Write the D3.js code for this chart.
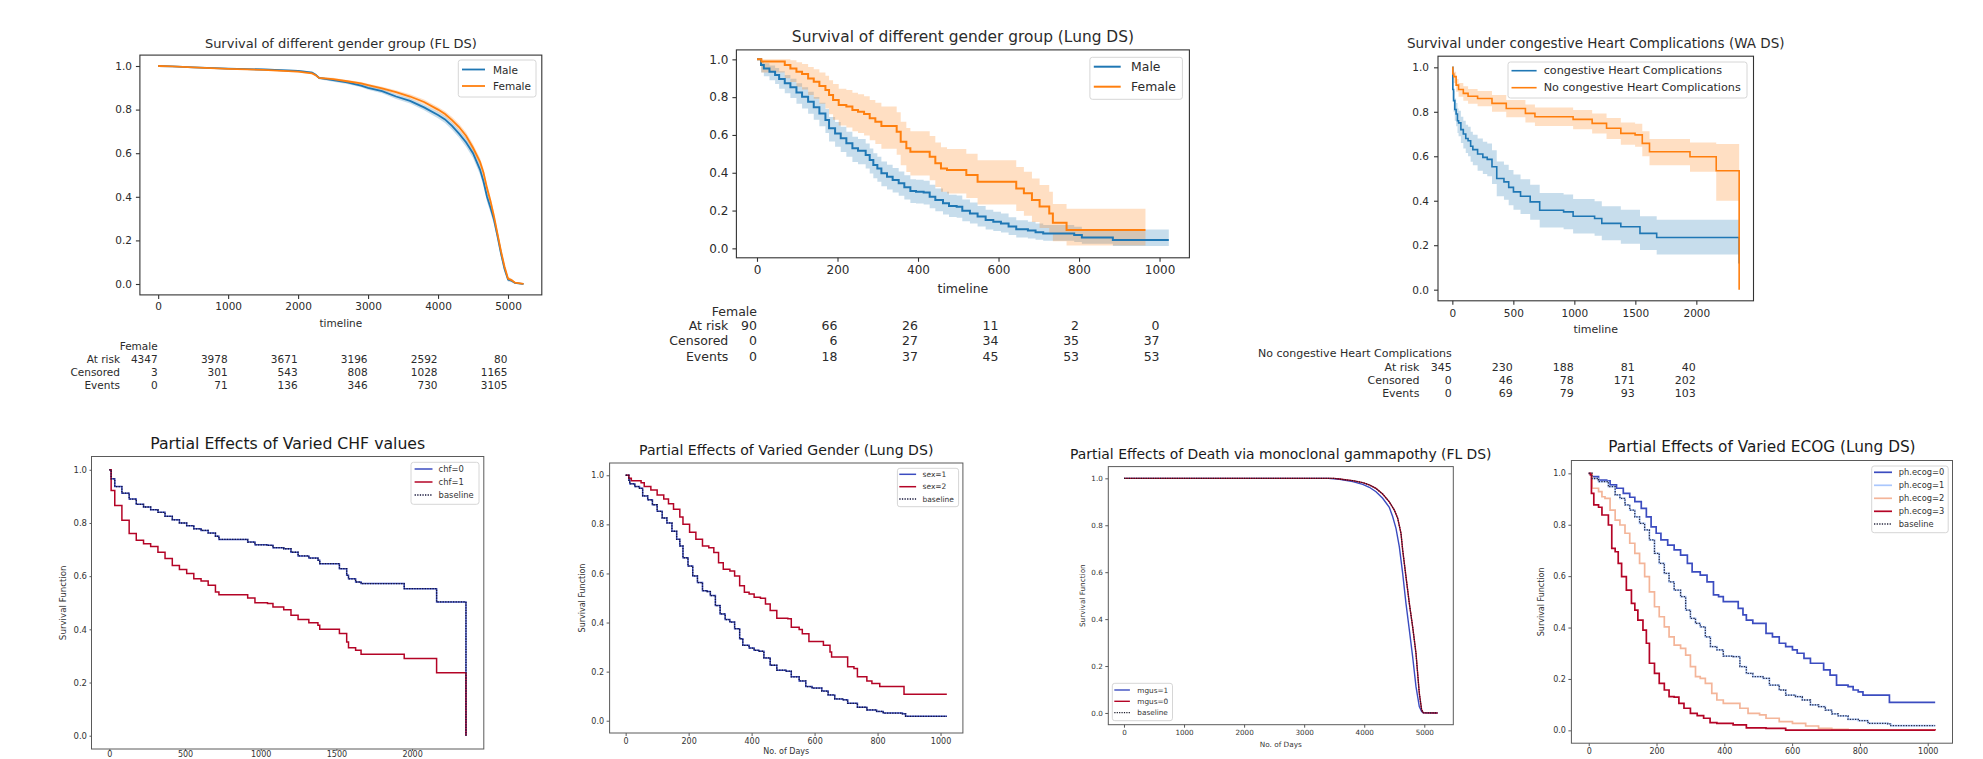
<!DOCTYPE html>
<html><head><meta charset="utf-8">
<script src="https://cdn.jsdelivr.net/npm/d3@7"></script>
<style>body{margin:0;background:#fff}svg{display:block}</style>
</head><body><script>
// ================= DATA =================
// Panel 1: FL dataset, KM by gender
const flTime = [0,200,500,1000,1500,2000,2200,2250,2300,2500,2700,2900,3000,3200,3400,3600,3800,4000,4100,4200,4300,4400,4500,4600,4650,4700,4750,4800,4850,4900,4950,5000,5050,5100,5200,5222];
const flMale = [1.0,0.998,0.994,0.988,0.984,0.978,0.970,0.960,0.945,0.935,0.925,0.91,0.90,0.885,0.86,0.84,0.81,0.775,0.755,0.725,0.69,0.65,0.60,0.525,0.47,0.40,0.35,0.295,0.22,0.14,0.07,0.02,0.015,0.005,0.001,0.001];
const flMaleLo = [1.0,0.997,0.992,0.985,0.980,0.974,0.965,0.955,0.939,0.928,0.917,0.902,0.891,0.875,0.849,0.828,0.797,0.760,0.739,0.708,0.672,0.630,0.578,0.502,0.447,0.377,0.327,0.273,0.200,0.122,0.056,0.012,0.008,0.001,0.0,0.0];
const flMaleHi = [1.0,0.999,0.996,0.991,0.988,0.982,0.975,0.965,0.951,0.942,0.933,0.918,0.909,0.895,0.871,0.852,0.823,0.790,0.771,0.742,0.708,0.670,0.622,0.548,0.493,0.423,0.373,0.317,0.240,0.158,0.084,0.028,0.022,0.009,0.003,0.003];
const flFemale = [1.0,0.998,0.994,0.987,0.982,0.974,0.966,0.958,0.945,0.94,0.93,0.92,0.912,0.897,0.88,0.86,0.835,0.80,0.78,0.752,0.72,0.68,0.625,0.56,0.51,0.44,0.38,0.31,0.23,0.15,0.08,0.025,0.018,0.006,0.002,0.001];
const flFemaleLo = [1.0,0.997,0.992,0.984,0.979,0.970,0.962,0.953,0.940,0.934,0.924,0.913,0.905,0.889,0.871,0.850,0.824,0.788,0.767,0.738,0.705,0.664,0.608,0.542,0.491,0.421,0.361,0.291,0.212,0.134,0.067,0.017,0.011,0.002,0.0,0.0];
const flFemaleHi = [1.0,0.999,0.996,0.990,0.985,0.978,0.970,0.963,0.950,0.946,0.936,0.927,0.919,0.905,0.889,0.870,0.846,0.812,0.793,0.766,0.735,0.696,0.642,0.578,0.529,0.459,0.399,0.329,0.248,0.166,0.093,0.033,0.025,0.010,0.004,0.003];
const flTicks = [0,1000,2000,3000,4000,5000];
const flAtRisk = [4347,3978,3671,3196,2592,80];
const flCensored = [3,301,543,808,1028,1165];
const flEvents = [0,71,136,346,730,3105];

// Panel 2: Lung dataset, KM by gender
const lungMaleTime = [0,10,17,31,45,55,69,83,98,112,127,141,155,170,179,194,208,222,237,251,270,280,289,299,309,323,337,352,366,381,395,414,429,443,462,477,496,510,529,548,568,587,606,625,644,673,692,711,759,788,807,855,884,1023];
const lungMale = [1.0,0.97,0.952,0.935,0.917,0.896,0.873,0.852,0.824,0.802,0.776,0.746,0.714,0.679,0.635,0.608,0.582,0.556,0.529,0.517,0.494,0.467,0.441,0.423,0.397,0.379,0.362,0.344,0.323,0.303,0.30,0.295,0.273,0.256,0.238,0.224,0.22,0.199,0.185,0.168,0.15,0.141,0.132,0.115,0.101,0.094,0.085,0.079,0.079,0.071,0.058,0.058,0.044,0.044];
const lungMaleLo = [1.0,0.93,0.91,0.89,0.87,0.845,0.82,0.795,0.765,0.74,0.712,0.68,0.646,0.61,0.565,0.537,0.51,0.484,0.457,0.445,0.422,0.396,0.371,0.353,0.328,0.311,0.295,0.278,0.258,0.24,0.237,0.232,0.212,0.196,0.179,0.166,0.162,0.143,0.131,0.116,0.1,0.092,0.084,0.07,0.058,0.052,0.045,0.04,0.04,0.034,0.024,0.024,0.012,0.012];
const lungMaleHi = [1.0,0.99,0.98,0.968,0.954,0.937,0.917,0.898,0.873,0.853,0.829,0.801,0.77,0.737,0.695,0.669,0.643,0.617,0.59,0.578,0.555,0.528,0.503,0.485,0.46,0.442,0.425,0.407,0.387,0.366,0.363,0.358,0.336,0.317,0.299,0.284,0.28,0.258,0.243,0.224,0.204,0.194,0.184,0.165,0.149,0.141,0.131,0.124,0.124,0.114,0.1,0.1,0.1,0.1];
const lungFemaleTime = [0,11,69,83,98,112,127,141,155,170,179,189,203,222,237,251,266,280,294,309,347,357,371,381,429,443,457,472,520,548,644,663,683,702,726,735,769,965];
const lungFemale = [1.0,0.989,0.97,0.952,0.935,0.922,0.899,0.882,0.859,0.838,0.811,0.785,0.758,0.75,0.732,0.723,0.711,0.688,0.67,0.647,0.617,0.564,0.529,0.511,0.485,0.45,0.423,0.414,0.388,0.353,0.317,0.291,0.256,0.221,0.185,0.136,0.097,0.097];
const lungFemaleLo = [1.0,0.93,0.90,0.88,0.855,0.84,0.812,0.792,0.765,0.74,0.71,0.68,0.65,0.64,0.62,0.61,0.597,0.572,0.552,0.527,0.495,0.44,0.404,0.386,0.36,0.325,0.3,0.29,0.266,0.232,0.198,0.173,0.14,0.108,0.077,0.038,0.015,0.015];
const lungFemaleHi = [1.0,1.0,1.0,0.995,0.985,0.975,0.96,0.948,0.93,0.913,0.89,0.87,0.845,0.838,0.823,0.815,0.805,0.785,0.77,0.75,0.72,0.67,0.637,0.62,0.595,0.56,0.535,0.526,0.5,0.466,0.43,0.405,0.37,0.335,0.3,0.235,0.21,0.21];
const lungTicks = [0,200,400,600,800,1000];
const lungAtRisk = [90,66,26,11,2,0];
const lungCensored = [0,6,27,34,35,37];
const lungEvents = [0,18,37,45,53,53];

// Panel 3: WA dataset, KM by congestive heart complications
const chcTime = [0,4,10,20,31,42,51,70,90,110,129,150,168,207,250,286,325,364,423,462,501,559,638,716,912,990,1166,1225,1381,1538,1675,2351];
const chcSurv = [1.0,0.90,0.85,0.81,0.79,0.76,0.75,0.72,0.70,0.68,0.67,0.645,0.63,0.61,0.595,0.586,0.553,0.50,0.485,0.46,0.44,0.42,0.395,0.357,0.35,0.33,0.32,0.298,0.283,0.253,0.235,0.118];
const chcLo = [1.0,0.86,0.80,0.76,0.735,0.705,0.69,0.66,0.635,0.615,0.6,0.575,0.56,0.535,0.52,0.51,0.475,0.42,0.405,0.38,0.36,0.34,0.315,0.28,0.272,0.253,0.243,0.222,0.207,0.178,0.158,0.158];
const chcHi = [1.0,0.94,0.895,0.86,0.84,0.815,0.805,0.778,0.76,0.742,0.733,0.71,0.697,0.68,0.665,0.657,0.627,0.577,0.562,0.538,0.518,0.497,0.472,0.435,0.428,0.408,0.398,0.375,0.36,0.33,0.315,0.315];
const noChcTime = [0,4,12,31,51,90,129,207,325,442,599,677,990,1146,1264,1381,1498,1557,1616,1948,2163,2351];
const noChcSurv = [1.0,0.97,0.958,0.92,0.90,0.883,0.87,0.86,0.838,0.815,0.793,0.778,0.766,0.748,0.726,0.703,0.696,0.658,0.62,0.598,0.535,0.0];
const noChcLo = [1.0,0.945,0.93,0.89,0.868,0.85,0.836,0.825,0.80,0.775,0.752,0.736,0.722,0.702,0.678,0.652,0.643,0.6,0.56,0.53,0.40,0.40];
const noChcHi = [1.0,0.99,0.98,0.948,0.93,0.915,0.903,0.894,0.875,0.853,0.833,0.819,0.808,0.792,0.772,0.752,0.746,0.713,0.678,0.662,0.655,0.655];
const waTicks = [0,500,1000,1500,2000];
const waAtRisk = [345,230,188,81,40];
const waCensored = [0,46,78,171,202];
const waEvents = [0,69,79,93,103];

// Panel 4: partial effects of CHF
const chfTime = [0,12,36,83,131,178,226,273,321,368,416,463,511,558,606,653,701,724,843,914,962,1045,1081,1152,1200,1247,1318,1378,1390,1485,1520,1568,1580,1627,1663,1912,1948,2150,2162,2352,2356];
const chf0Surv = [1.0,0.966,0.937,0.912,0.89,0.87,0.86,0.85,0.84,0.825,0.812,0.80,0.79,0.778,0.772,0.762,0.75,0.738,0.738,0.728,0.718,0.716,0.707,0.703,0.69,0.676,0.668,0.66,0.647,0.647,0.628,0.603,0.59,0.578,0.572,0.572,0.553,0.553,0.503,0.503,0.0];
const chf1Surv = [1.0,0.922,0.866,0.81,0.76,0.735,0.722,0.712,0.69,0.666,0.64,0.625,0.61,0.59,0.582,0.566,0.54,0.53,0.53,0.518,0.50,0.497,0.484,0.474,0.453,0.437,0.425,0.415,0.40,0.40,0.384,0.352,0.331,0.321,0.306,0.306,0.29,0.29,0.237,0.237,0.0];
const chfBaseline = chf0Surv; // baseline read as coinciding with chf=0
const chfTicks = [0,500,1000,1500,2000];

// Panel 5: partial effects of gender (Lung)
const sex1Time = [0,10,13,29,44,54,70,85,100,116,131,147,162,172,182,198,213,228,244,259,269,285,300,316,331,346,362,372,392,408,423,439,459,480,510,526,551,572,592,623,643,664,690,705,736,766,797,818,879,889,1020];
const sex1Surv = [1.0,0.98,0.965,0.954,0.947,0.916,0.90,0.88,0.853,0.826,0.806,0.772,0.739,0.712,0.664,0.63,0.59,0.563,0.53,0.526,0.51,0.469,0.435,0.412,0.402,0.375,0.334,0.307,0.296,0.287,0.283,0.256,0.226,0.206,0.202,0.179,0.162,0.139,0.133,0.121,0.105,0.089,0.085,0.071,0.055,0.044,0.038,0.031,0.028,0.018,0.018];
const sex2Time = [0,10,18,49,59,80,100,121,136,152,172,182,203,223,244,264,280,295,310,331,346,362,377,392,408,428,444,459,480,515,526,551,561,582,613,628,649,654,684,705,725,736,766,782,807,879,884,1020];
const sex2Surv = [1.0,0.988,0.978,0.97,0.954,0.94,0.92,0.903,0.884,0.862,0.83,0.80,0.768,0.739,0.712,0.705,0.685,0.644,0.617,0.61,0.59,0.55,0.523,0.516,0.503,0.499,0.476,0.449,0.418,0.415,0.381,0.372,0.354,0.323,0.323,0.307,0.28,0.26,0.26,0.22,0.213,0.179,0.162,0.152,0.139,0.139,0.108,0.108];
const sexBaseline = sex1Surv; // baseline read as coinciding with sex=1
const daysTicks = [0,200,400,600,800,1000];

// Panel 6: partial effects of mgus (FL)
const mgus0Time = [0,3498,3587,3808,3975,4085,4196,4307,4418,4501,4557,4612,4640,4695,4751,4806,4862,4917,4956,4984,5222];
const mgus0Surv = [1.0,1.0,0.997,0.99,0.982,0.972,0.957,0.933,0.90,0.865,0.83,0.766,0.695,0.581,0.467,0.368,0.254,0.084,0.013,0.001,0.0];
const mgus1Time = [0,3400,3587,3808,3975,4085,4196,4307,4418,4473,4529,4584,4640,4695,4751,4806,4862,4917,4956,4984,5222];
const mgus1Surv = [1.0,1.0,0.996,0.986,0.974,0.962,0.943,0.915,0.876,0.837,0.787,0.709,0.595,0.467,0.354,0.24,0.112,0.027,0.006,0.001,0.0];
const mgusBaseline = mgus0Surv; // baseline read as coinciding with mgus=0
const mgusTicks = [0,1000,2000,3000,4000,5000];

// Panel 7: partial effects of ECOG (Lung)
const ecog0Time = [0,10,29,53,63,82,102,121,136,155,170,184,199,213,233,252,271,291,305,329,349,368,383,397,426,441,455,465,484,514,523,542,562,581,601,615,635,654,683,693,712,731,765,780,795,809,882,887,1022];
const ecog0Surv = [1.0,0.987,0.974,0.971,0.955,0.942,0.922,0.907,0.89,0.864,0.831,0.792,0.767,0.741,0.721,0.702,0.682,0.65,0.617,0.604,0.578,0.527,0.52,0.501,0.501,0.475,0.449,0.429,0.416,0.416,0.377,0.364,0.339,0.326,0.313,0.30,0.28,0.261,0.261,0.235,0.215,0.176,0.17,0.157,0.15,0.137,0.137,0.109,0.109];
const ecogBaseTime = [0,10,29,58,78,92,107,121,136,150,165,179,194,208,223,237,252,271,286,300,315,329,344,359,378,397,426,446,465,484,514,533,562,581,610,630,654,678,698,717,736,765,795,824,882,891,1022];
const ecogBaseline = [1.0,0.98,0.968,0.948,0.916,0.903,0.877,0.857,0.831,0.805,0.78,0.741,0.689,0.65,0.611,0.578,0.546,0.52,0.468,0.436,0.416,0.403,0.364,0.326,0.313,0.289,0.287,0.248,0.222,0.209,0.202,0.176,0.157,0.137,0.131,0.118,0.099,0.092,0.079,0.064,0.056,0.043,0.038,0.027,0.025,0.018,0.018];
const ecog1Surv = ecogBaseline; // ph.ecog=1 read as coinciding with baseline
const ecog2Time = [0,10,29,39,48,63,78,92,107,121,136,150,165,179,194,208,223,237,252,271,286,300,315,329,344,363,378,397,446,470,504,523,562,601,640,678,717,765,1022];
const ecog2Surv = [1.0,0.942,0.929,0.909,0.903,0.857,0.818,0.799,0.767,0.728,0.689,0.65,0.598,0.539,0.481,0.442,0.403,0.364,0.332,0.319,0.293,0.248,0.209,0.202,0.183,0.144,0.118,0.105,0.086,0.066,0.06,0.047,0.034,0.027,0.017,0.008,0.004,0.001,0.0];
const ecog3Time = [0,5,8,15,29,39,58,68,78,87,97,111,126,136,145,160,170,179,194,208,223,237,252,266,281,300,320,339,358,378,426,465,523,581,1022];
const ecog3Surv = [1.0,0.994,0.922,0.877,0.868,0.838,0.799,0.708,0.695,0.65,0.598,0.546,0.494,0.468,0.429,0.39,0.339,0.261,0.222,0.183,0.157,0.131,0.129,0.105,0.086,0.066,0.057,0.047,0.03,0.027,0.021,0.01,0.008,0.001,0.0];

const yTickValues = [0,0.2,0.4,0.6,0.8,1.0];
const tableRowLabels = ["At risk","Censored","Events"];

// ================= DRAWING =================
const FONT = "'DejaVu Sans', sans-serif";
const C0 = "#1f77b4", C1 = "#ff7f0e";
const CW_BLUE = "#3b4cc0", CW_RED = "#b40426", CW_LBLUE = "#aac7fd", CW_SALMON = "#f4b599";
const svg = d3.select("body").append("svg").attr("width",1983).attr("height",759)
  .style("font-family", FONT);
const defs = svg.append("defs");

function drawPanel(p){
  const x = d3.scaleLinear().domain(p.xDomain).range([p.L,p.R]);
  const y = d3.scaleLinear().domain([-0.05,1.05]).range([p.B,p.T]);
  const g = svg.append("g");
  const cid = "clip"+p.id;
  defs.append("clipPath").attr("id",cid).append("rect")
    .attr("x",p.L).attr("y",p.T).attr("width",p.R-p.L).attr("height",p.B-p.T);
  const plot = g.append("g").attr("clip-path",`url(#${cid})`);
  (p.bands||[]).forEach(b=>{
    plot.append("path").datum(d3.zip(b.t,b.lo,b.hi))
      .attr("d", d3.area().curve(p.curve).x(d=>x(d[0])).y0(d=>y(d[1])).y1(d=>y(d[2])))
      .attr("fill", b.color).attr("fill-opacity", 0.25);
  });
  p.lines.forEach(l=>{
    plot.append("path").datum(d3.zip(l.t,l.s))
      .attr("d", d3.line().curve(p.curve).x(d=>x(d[0])).y(d=>y(d[1])))
      .attr("fill","none").attr("stroke",l.color).attr("stroke-width",l.w)
      .attr("stroke-dasharray", l.dash||null);
  });
  const ax = g.append("g").attr("transform",`translate(0,${p.B})`)
    .call(d3.axisBottom(x).tickValues(p.xTicks).tickFormat(d3.format("d")).tickSize(p.tickLen).tickPadding(p.tickPad));
  const ay = g.append("g").attr("transform",`translate(${p.L},0)`)
    .call(d3.axisLeft(y).tickValues(yTickValues).tickFormat(d3.format(".1f")).tickSize(p.tickLen).tickPadding(p.tickPadY));
  [ax,ay].forEach(a=>{
    a.select(".domain").remove();
    a.selectAll("line").attr("stroke",p.axisColor).attr("stroke-width",p.frameW);
    a.selectAll("text").attr("font-size",p.tickFont).attr("fill",p.textColor).attr("font-family",FONT);
  });
  if (p.xTickFont) ax.selectAll("text").attr("font-size",p.xTickFont);
  g.append("rect").attr("x",p.L).attr("y",p.T).attr("width",p.R-p.L).attr("height",p.B-p.T)
    .attr("fill","none").attr("stroke",p.axisColor).attr("stroke-width",p.frameW);
  g.append("text").attr("x",(p.L+p.R)/2).attr("y",p.titleY).attr("text-anchor","middle")
    .attr("dominant-baseline","central").attr("font-size",p.titleFont).attr("fill",p.titleColor||p.textColor).text(p.title);
  if (p.xlabel) g.append("text").attr("x",(p.L+p.R)/2).attr("y",p.xlabelY).attr("text-anchor","middle")
    .attr("dominant-baseline","central").attr("font-size",p.labelFont).attr("fill",p.textColor).text(p.xlabel);
  if (p.ylabel) g.append("text").attr("transform",`translate(${p.ylabelX},${(p.T+p.B)/2}) rotate(-90)`)
    .attr("text-anchor","middle").attr("dominant-baseline","central")
    .attr("font-size",p.labelFont).attr("fill",p.textColor).text(p.ylabel);
  // legend
  const lg = p.legend;
  const lgG = g.append("g");
  lgG.append("rect").attr("x",lg.x0).attr("y",lg.y0).attr("width",lg.x1-lg.x0).attr("height",lg.y1-lg.y0)
    .attr("rx",2.5).attr("fill","#fff").attr("fill-opacity",0.85).attr("stroke","#d6d6d6").attr("stroke-width",1);
  p.lines.filter(l=>l.label).forEach((l,i)=>{
    const yy = lg.ys[i];
    lgG.append("line").attr("x1",lg.hx0).attr("x2",lg.hx1).attr("y1",yy).attr("y2",yy)
      .attr("stroke",l.legendColor||l.color).attr("stroke-width",l.w).attr("stroke-dasharray",l.dash||null);
    lgG.append("text").attr("x",lg.tx).attr("y",yy).attr("dominant-baseline","central")
      .attr("font-size",lg.font).attr("fill",p.textColor).text(l.label);
  });
  // at-risk table
  if (p.table){
    const tb = p.table;
    const tg = g.append("g").attr("font-size",tb.font).attr("fill",p.textColor);
    tg.append("text").attr("x",x(p.xTicks[0])+tb.dx).attr("y",tb.headerY).attr("text-anchor","end")
      .attr("dominant-baseline","central").text(tb.header);
    tb.rows.forEach((row,ri)=>{
      tg.append("text").attr("x",tb.labelX).attr("y",tb.rowY[ri]).attr("text-anchor","end")
        .attr("dominant-baseline","central").text(tableRowLabels[ri]);
      row.forEach((v,ci)=>{
        tg.append("text").attr("x",x(p.xTicks[ci])+tb.dx).attr("y",tb.rowY[ri]).attr("text-anchor","end")
          .attr("dominant-baseline","central").text(v);
      });
    });
  }
}

const topStyle = {axisColor:"#333", textColor:"#2b2b2b", frameW:1.1, tickLen:4, tickPad:4, tickPadY:4};
const botStyle = {axisColor:"#5a5a5a", textColor:"#333", frameW:1, tickLen:3, tickPad:2.5, tickPadY:2.5};

// Panel 1
drawPanel(Object.assign({}, topStyle, {
  id:1, L:139.9, R:541.8, T:55.1, B:294.9, xDomain:[-261.1,5483.1], xTicks:flTicks, curve:d3.curveLinear,
  title:"Survival of different gender group (FL DS)", titleY:43.3, titleFont:13, tickFont:10.5,
  xlabel:"timeline", xlabelY:323, labelFont:10.5,
  bands:[{t:flTime,lo:flMaleLo,hi:flMaleHi,color:C0},{t:flTime,lo:flFemaleLo,hi:flFemaleHi,color:C1}],
  lines:[{t:flTime,s:flMale,color:C0,w:1.8,label:"Male"},{t:flTime,s:flFemale,color:C1,w:1.8,label:"Female"}],
  legend:{x0:458.3,x1:536,y0:60,y1:97,ys:[69.5,86],hx0:462,hx1:485,tx:493,font:10.5},
  table:{header:"Female",headerY:346,rowY:[359,372,385],labelX:120,dx:-0.5,font:10.5,rows:[flAtRisk,flCensored,flEvents]}
}));

// Panel 2
drawPanel(Object.assign({}, topStyle, {
  id:2, L:736.4, R:1189.4, T:49.9, B:257.8, xDomain:[-51.15,1074.15], xTicks:lungTicks, curve:d3.curveStepAfter,
  title:"Survival of different gender group (Lung DS)", titleY:36.7, titleFont:15.4, tickFont:12,
  xlabel:"timeline", xlabelY:288, labelFont:12.5,
  bands:[{t:lungMaleTime,lo:lungMaleLo,hi:lungMaleHi,color:C0},{t:lungFemaleTime,lo:lungFemaleLo,hi:lungFemaleHi,color:C1}],
  lines:[{t:lungMaleTime,s:lungMale,color:C0,w:2,label:"Male"},{t:lungFemaleTime,s:lungFemale,color:C1,w:2,label:"Female"}],
  legend:{x0:1089.9,x1:1182.4,y0:57.3,y1:99.3,ys:[66.7,86.7],hx0:1093.8,hx1:1120.7,tx:1131.1,font:12.4},
  table:{header:"Female",headerY:311.7,rowY:[325,340.7,356],labelX:728.3,dx:0,font:12.5,rows:[lungAtRisk,lungCensored,lungEvents]}
}));

// Panel 3
drawPanel(Object.assign({}, topStyle, {
  id:3, L:1438, R:1753.5, T:56.2, B:300.8, xDomain:[-117.55,2468.55], xTicks:waTicks, curve:d3.curveStepAfter,
  title:"Survival under congestive Heart Complications (WA DS)", titleY:43.3, titleFont:13.5, tickFont:10.5,
  tickPad:5, tickPadY:5,
  xlabel:"timeline", xlabelY:329, labelFont:11,
  bands:[{t:chcTime,lo:chcLo,hi:chcHi,color:C0},{t:noChcTime,lo:noChcLo,hi:noChcHi,color:C1}],
  lines:[{t:chcTime,s:chcSurv,color:C0,w:1.6,label:"congestive Heart Complications"},
         {t:noChcTime,s:noChcSurv,color:C1,w:1.6,label:"No congestive Heart Complications"}],
  legend:{x0:1508,x1:1747,y0:62,y1:98,ys:[70.7,87.7],hx0:1511.5,hx1:1536.6,tx:1543.7,font:11.2},
  table:{header:"No congestive Heart Complications",headerY:353,rowY:[367,380,393],labelX:1419.4,dx:-0.5,font:11,rows:[waAtRisk,waCensored,waEvents]}
}));

// Panel 4
drawPanel(Object.assign({}, botStyle, {
  id:4, L:91.5, R:483.8, T:456.5, B:749, xDomain:[-117.8,2473.8], xTicks:chfTicks, curve:d3.curveStepAfter,
  title:"Partial Effects of Varied CHF values", titleY:443.3, titleFont:15.7, titleColor:"#1a1a1a", tickFont:8.5,
  xTickFont:8, tickLen:2, tickPad:0,
  ylabel:"Survival Function", ylabelX:62.8, labelFont:8.7,
  lines:[{t:chfTime,s:chf0Surv,color:CW_BLUE,w:1.5,label:"chf=0"},
         {t:chfTime,s:chf1Surv,color:CW_RED,w:1.5,label:"chf=1"},
         {t:chfTime,s:chfBaseline,color:"#15153a",w:1.3,dash:"1.3,1.3",label:"baseline"}],
  legend:{x0:411,x1:479,y0:462.3,y1:504.3,ys:[469,482,495],hx0:414.6,hx1:432.5,tx:438.6,font:8.4}
}));

// Panel 5
drawPanel(Object.assign({}, botStyle, {
  id:5, L:609.6, R:962.9, T:463, B:733, xDomain:[-51,1071], xTicks:daysTicks, curve:d3.curveStepAfter,
  title:"Partial Effects of Varied Gender (Lung DS)", titleY:450, titleFont:14.1, titleColor:"#1a1a1a", tickFont:8,
  xlabel:"No. of Days", xlabelY:751, ylabel:"Survival Function", ylabelX:582.9, labelFont:8,
  lines:[{t:sex1Time,s:sex1Surv,color:CW_BLUE,w:1.5,label:"sex=1"},
         {t:sex2Time,s:sex2Surv,color:CW_RED,w:1.5,label:"sex=2"},
         {t:sex1Time,s:sexBaseline,color:"#15153a",w:1.3,dash:"1.3,1.3",label:"baseline"}],
  legend:{x0:897.4,x1:958.6,y0:468.3,y1:506.7,ys:[474.3,486.7,499],hx0:899.3,hx1:916.1,tx:922.5,font:7.5}
}));

// Panel 6
drawPanel(Object.assign({}, botStyle, {
  id:6, L:1108.3, R:1453.3, T:466.6, B:724.7, xDomain:[-261.1,5483.1], xTicks:mgusTicks, curve:d3.curveLinear,
  title:"Partial Effects of Death via monoclonal gammapothy (FL DS)", titleY:454, titleFont:13.9, titleColor:"#1a1a1a", tickFont:7.2,
  xlabel:"No. of Days", xlabelY:744.3, ylabel:"Survival Function", ylabelX:1082.8, labelFont:7.3,
  lines:[{t:mgus1Time,s:mgus1Surv,color:CW_BLUE,w:1.4,label:"mgus=1"},
         {t:mgus0Time,s:mgus0Surv,color:CW_RED,w:1.4,label:"mgus=0"},
         {t:mgus0Time,s:mgusBaseline,color:"#1c1c2a",w:1.2,dash:"1.2,1.2",label:"baseline"}],
  legend:{x0:1112.3,x1:1172.5,y0:683.3,y1:720.7,ys:[690,701.3,712.7],hx0:1114.3,hx1:1129.9,tx:1137.3,font:7.3}
}));

// Panel 7
drawPanel(Object.assign({}, botStyle, {
  id:7, L:1571.4, R:1952.5, T:460.5, B:743.2, xDomain:[-51.1,1073.1], xTicks:daysTicks, curve:d3.curveStepAfter,
  title:"Partial Effects of Varied ECOG (Lung DS)", titleY:446.7, titleFont:15.3, titleColor:"#1a1a1a", tickFont:8,
  ylabel:"Survival Function", ylabelX:1541.7, labelFont:8,
  lines:[{t:ecog0Time,s:ecog0Surv,color:CW_BLUE,w:1.7,label:"ph.ecog=0"},
         {t:ecogBaseTime,s:ecog1Surv,color:CW_LBLUE,w:1.7,label:"ph.ecog=1"},
         {t:ecog2Time,s:ecog2Surv,color:CW_SALMON,w:1.7,label:"ph.ecog=2"},
         {t:ecog3Time,s:ecog3Surv,color:CW_RED,w:1.7,label:"ph.ecog=3"},
         {t:ecogBaseTime,s:ecogBaseline,color:"#2a2a40",w:1.3,dash:"1.3,1.3",label:"baseline"}],
  legend:{x0:1871.7,x1:1948.2,y0:466,y1:532.7,ys:[472.3,485.3,498.3,511.3,524],hx0:1874,hx1:1892,tx:1898.8,font:8.3}
}));
</script></body></html>
